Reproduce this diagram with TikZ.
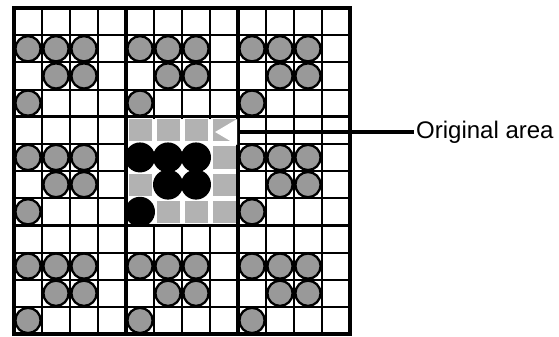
\documentclass[tikz,border=0pt]{standalone}
\usepackage{fontspec}
\setmainfont{Liberation Sans}
\usetikzlibrary{arrows.meta}
\begin{document}
\begin{tikzpicture}[x=1pt,y=-1pt,
  thingrid/.style={line width=2pt},
  thickgrid/.style={line width=3.6pt},
  dotcirc/.style={draw=black, line width=2.3pt, fill=black!40},
  graycell/.style={fill=black!30},
  blackcirc/.style={fill=black},
  pointer/.style={line width=3.5pt, -{Triangle[color=white,length=22pt,width=25pt]}}]
\useasboundingbox (0,0) rectangle (559,337);
\fill[white] (0,0) rectangle (559,337);
% thin grid lines
\foreach \i in {1,2,3,5,6,7,9,10,11} {
  \draw[thingrid] ({14+28*\i},8) -- ({14+28*\i},334.04);
  \draw[thingrid] (14,{8+27.17*\i}) -- (350,{8+27.17*\i});
}
% clear the centre block
\fill[white] (127.8,118.5) rectangle (236.2,223.5);
% stippled circles in the outer blocks
\foreach \bc/\br in {0/0,1/0,2/0,0/1,2/1,0/2,1/2,2/2} {
  \foreach \dc/\dr in {0/1,1/1,2/1,1/2,2/2,0/3} {
    \draw[dotcirc] ({28+28*(4*\bc+\dc)},{21.585+27.17*(4*\br+\dr)}) circle[radius=12.6pt];
  }
}
% centre block: grey cells
\foreach \c/\r in {4/4,5/4,6/4,7/4,7/5,4/6,7/6,5/7,6/7,7/7} {
  \fill[graycell] ({14+28*\c+2.5},{8+27.17*\r+2.5}) rectangle ({14+28*\c+25.5},{8+27.17*\r+24.67});
}
% centre block: black circles
\foreach \c/\r in {4/5,5/5,6/5,5/6,6/6,4/7} {
  \fill[blackcirc] ({28+28*\c},{21.585+27.17*\r}) circle[radius=15pt];
}
% thick lines
\draw[thickgrid] (14,8) rectangle (350,334.04);
\draw[thickgrid] (126,8) -- (126,334.04);
\draw[thickgrid] (238,8) -- (238,334.04);
\draw[thickgrid] (14,116.68) -- (350,116.68);
\draw[thickgrid] (14,225.36) -- (350,225.36);
% label and pointer
\coordinate (tip) at (215,132);
\node[anchor=west, inner xsep=2pt, inner ysep=0pt, font=\fontsize{24}{28}\selectfont] (lbl) at (414,132) {Original area};
\draw[pointer] (lbl.west) -- (tip);
\end{tikzpicture}
\end{document}
